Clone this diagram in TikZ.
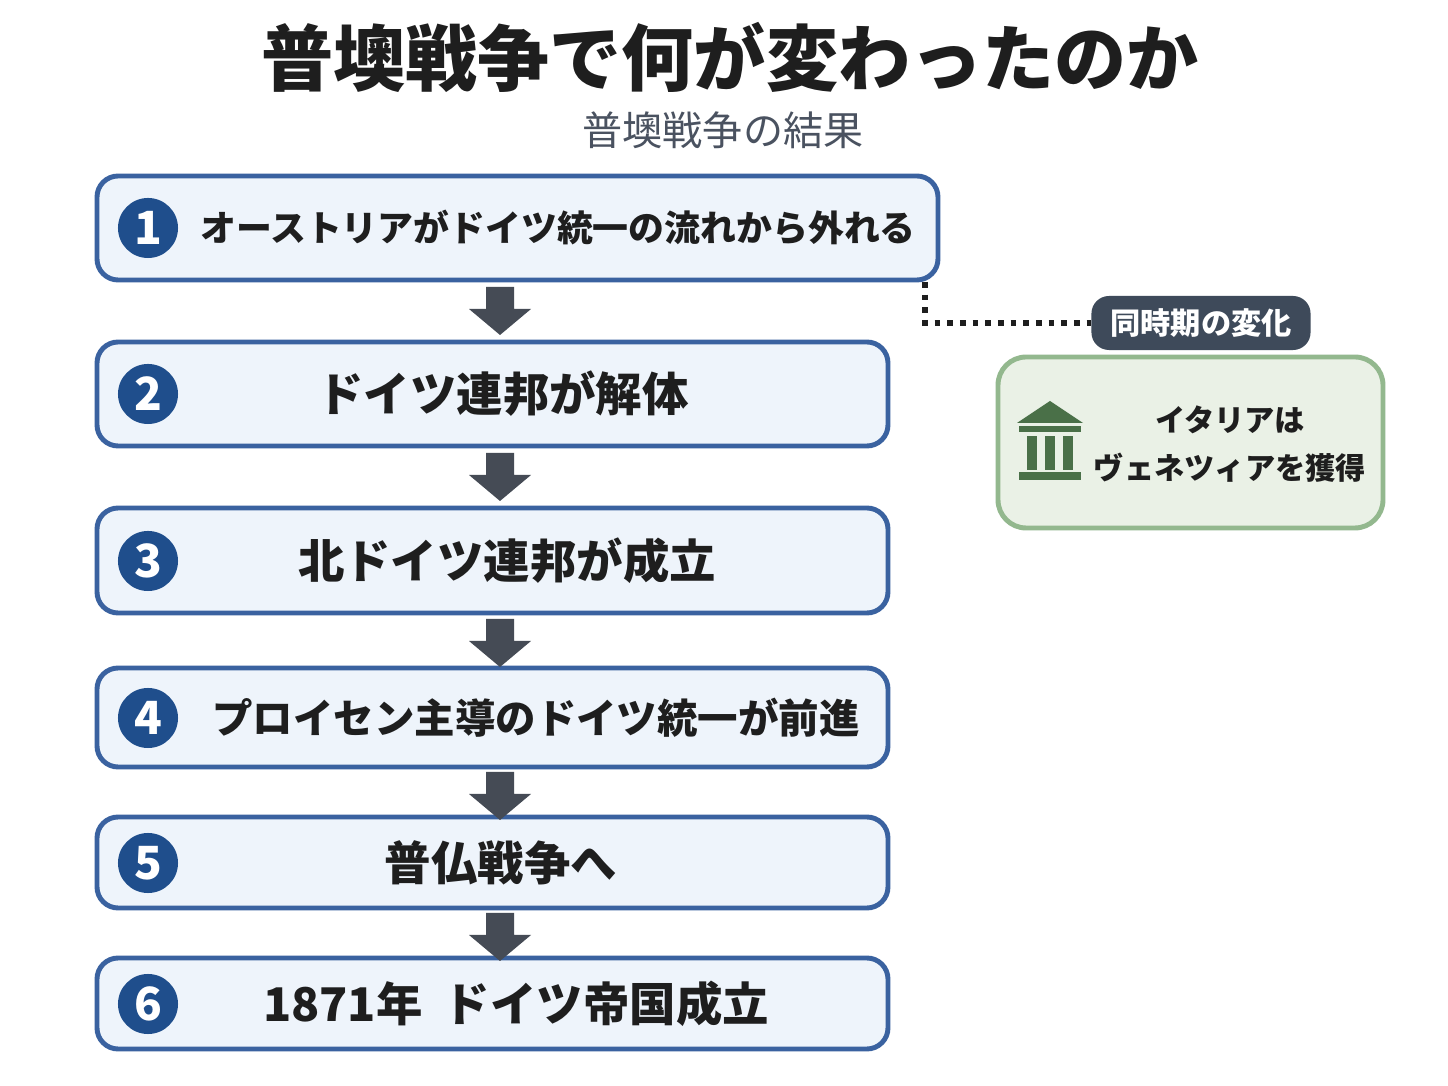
\documentclass[tikz,border=0pt]{standalone}
\usepackage{fontspec}
\setmainfont{Noto Sans CJK JP}
\begin{document}
\begin{tikzpicture}[x=0.01cm,y=-0.01cm,
  stepbox/.style={draw=stepborder,line width=1.4pt,fill=stepfill,rounded corners=6pt},
  num/.style={circle,fill=numblue,text=white,minimum size=0.6cm,inner sep=0pt,font=\fontsize{13}{13}\selectfont\bfseries},
  txt/.style={font=\fontsize{#1}{13}\selectfont\bfseries,text=textdark},
  txt/.default=13.2,
  blk/.style={fill=arrowgray}]
\definecolor{stepborder}{HTML}{3A62A0}
\definecolor{stepfill}{HTML}{EEF4FB}
\definecolor{numblue}{HTML}{1F4E8C}
\definecolor{textdark}{HTML}{1E1E1E}
\definecolor{arrowgray}{HTML}{454B55}
\definecolor{subgray}{HTML}{4A5260}
\definecolor{tagfill}{HTML}{3E4A5A}
\definecolor{gfill}{HTML}{EAF1E6}
\definecolor{gborder}{HTML}{93B88E}
\definecolor{gicon}{HTML}{4A7048}
\useasboundingbox[fill=white] (0,0) rectangle (1448,1086);
\node[font=\fontsize{20.5}{21}\selectfont\bfseries,text=textdark] (title) at (730,57) {普墺戦争で何が変わったのか};
\node[font=\fontsize{11.4}{12}\selectfont,text=subgray] (sub) at (723,130) {普墺戦争の結果};
% boxes
\path[stepbox] (97,176) rectangle (938,280);
\path[stepbox] (97,342) rectangle (888,446);
\path[stepbox] (97,508) rectangle (888,613);
\path[stepbox] (97,668) rectangle (888,767);
\path[stepbox] (97,817) rectangle (888,908);
\path[stepbox] (97,958) rectangle (888,1049);
\node[num] (n1) at (148,228) {1};
\node[num] (n2) at (148,394) {2};
\node[num] (n3) at (148,561) {3};
\node[num] (n4) at (148,718) {4};
\node[num] (n5) at (148,863) {5};
\node[num] (n6) at (148,1004) {6};
\node[txt=10.2] (t1) at (558,228) {オーストリアがドイツ統一の流れから外れる};
\node[txt] (t2) at (503,394) {ドイツ連邦が解体};
\node[txt] (t3) at (507,561) {北ドイツ連邦が成立};
\node[txt=11.5] (t4) at (536,718) {プロイセン主導のドイツ統一が前進};
\node[txt] (t5) at (501,863) {普仏戦争へ};
\node[txt] (t6) at (516,1004) {1871年\ \ ドイツ帝国成立};
% block arrows
\foreach \y in {287,453,619,772,913}{
  \fill[blk] (486,\y) -- (514,\y) -- (514,\y+22) -- (531,\y+22) -- (500,\y+48) -- (469,\y+22) -- (486,\y+22) -- cycle;
}
% side
\node[fill=tagfill,text=white,rounded corners=5pt,minimum width=2.19cm,minimum height=0.54cm,font=\fontsize{8.6}{10}\selectfont\bfseries] (tag) at (1201,323) {同時期の変化};
\coordinate (d0) at (925,282);
\draw[line width=1.6pt,dotted,textdark] (d0) |- (tag.west);
\path[draw=gborder,fill=gfill,line width=1.4pt,rounded corners=8pt] (998,357) rectangle (1383,528);
\node[align=center,text=textdark,font=\fontsize{8.6}{13.5}\selectfont\bfseries] (it) at (1230,444) {イタリアは\\ヴェネツィアを獲得};
\begin{scope}[gicon]
\fill (1017,423) -- (1050,401) -- (1083,423) -- cycle;
\fill (1019,426) rectangle (1081,432);
\foreach \c in {1027,1045,1063}{\fill (\c,436) rectangle (\c+10,470);}
\fill (1019,472) rectangle (1081,480);
\end{scope}
\end{tikzpicture}
\end{document}
